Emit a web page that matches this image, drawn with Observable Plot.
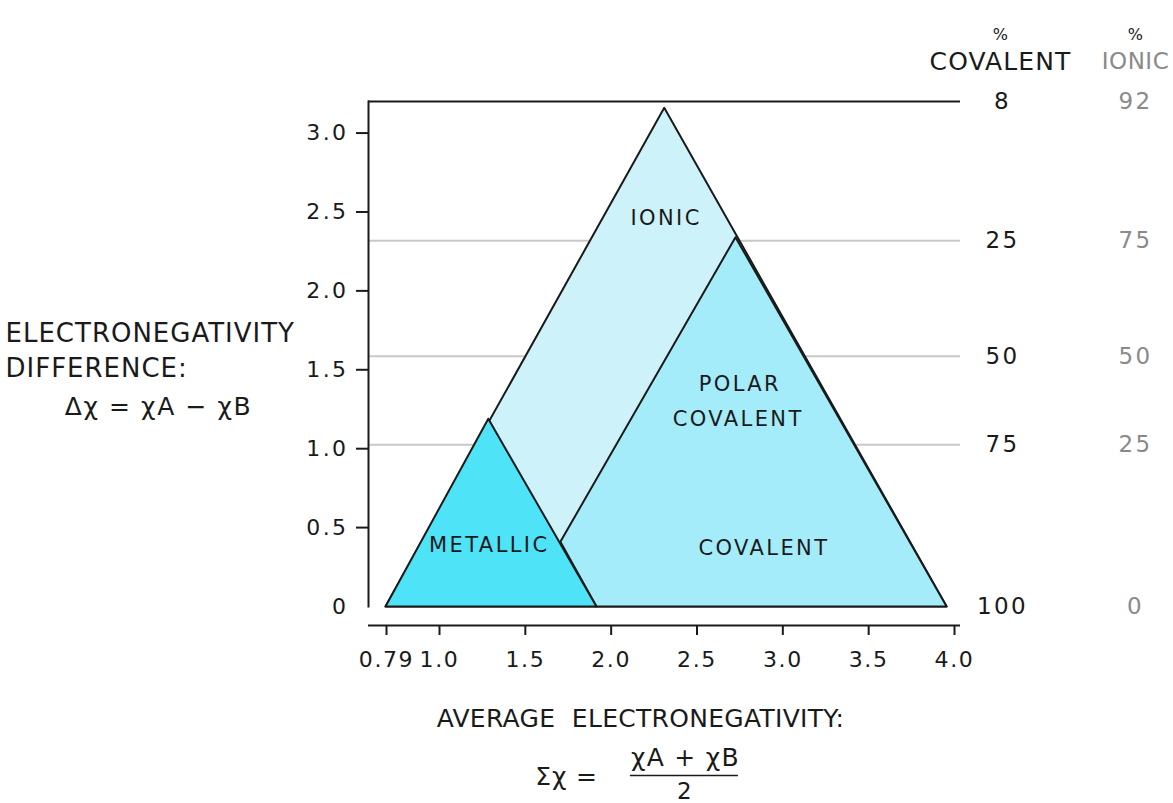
<!DOCTYPE html>
<html>
<head>
<meta charset="utf-8">
<script src="https://cdn.jsdelivr.net/npm/d3@7"></script>
<script src="https://cdn.jsdelivr.net/npm/@observablehq/plot@0.6"></script>
<style>
  html, body { margin: 0; padding: 0; background: #fff; }
  svg { font-family: "DejaVu Sans", sans-serif; }
  svg text { letter-spacing: 2.4px; }
</style>
</head>
<body>
<div id="chart"></div>
<script>
// ---- data ----
const xTicks = [0.79, 1.0, 1.5, 2.0, 2.5, 3.0, 3.5, 4.0];
const xTickLabels = ["0.79", "1.0", "1.5", "2.0", "2.5", "3.0", "3.5", "4.0"];
const yTicks = [0.5, 1.0, 1.5, 2.0, 2.5, 3.0];
const yTickLabels = ["0.5", "1.0", "1.5", "2.0", "2.5", "3.0"];

// whole triangle (ionic region is what remains visible)
const ionicX = [0.79, 2.315, 3.96, 0.79];
const ionicY = [0, 3.16, 0, 0];
// polar covalent / covalent region
const covalentX = [1.71, 2.73, 3.96, 1.92, 1.71];
const covalentY = [0.41, 2.34, 0, 0, 0.41];
// metallic region
const metallicX = [0.79, 1.29, 1.92, 0.79];
const metallicY = [0, 1.19, 0, 0];

// % character reference levels (delta chi)
const levelY = [3.2, 2.318, 1.585, 1.025, 0];
const pctCovalent = [8, 25, 50, 75, 100];
const pctIonic = [92, 75, 50, 25, 0];
const gridLevels = [2.318, 1.585, 1.025];

// region labels
const regionNames = ["IONIC", "POLAR", "COVALENT", "COVALENT", "METALLIC"];
const regionX = [2.32, 2.75, 2.74, 2.89, 1.29];
const regionY = [2.46, 1.41, 1.185, 0.37, 0.39];

const toPts = (xs, ys) => xs.map((x, i) => ({x, y: ys[i]}));

const FS = 22;
const ink = "#1a1a1a";
const grey = "#8a8a8a";
const mid = {textAnchor: "middle", lineAnchor: "middle"};

const chart = Plot.plot({
  width: 1173,
  height: 803,
  marginLeft: 368,
  marginRight: 213,
  marginTop: 101,
  marginBottom: 197,
  style: {fontSize: FS + "px", color: ink, background: "#fff", overflow: "visible"},
  x: {type: "linear", domain: [0.79, 1.0, 4.0], range: [385, 438, 953], axis: null},
  y: {domain: [0, 3.2], axis: null},
  marks: [
    // horizontal % guide lines
    Plot.ruleY(gridLevels, {y: d => d, stroke: "#c8c8c8", strokeWidth: 2}),
    // top line (8 %) and left axis line
    Plot.ruleY([3.2], {stroke: ink, strokeWidth: 2}),
    Plot.frame({anchor: "left", stroke: ink, strokeWidth: 2}),
    // x axis baseline (offset below triangle)
    Plot.ruleY([0], {stroke: ink, strokeWidth: 2, dy: 19}),
    // triangles
    Plot.line(toPts(ionicX, ionicY), {x: "x", y: "y", fill: "#cdf2f9", stroke: ink, strokeWidth: 2, strokeLinejoin: "round"}),
    Plot.line(toPts(covalentX, covalentY), {x: "x", y: "y", fill: "#a5ecfb", stroke: ink, strokeWidth: 2, strokeLinejoin: "round"}),
    Plot.line(toPts(metallicX, metallicY), {x: "x", y: "y", fill: "#4fe3f8", stroke: ink, strokeWidth: 2, strokeLinejoin: "round"}),
    // region labels
    Plot.text(regionNames.map((t, i) => ({t, x: regionX[i], y: regionY[i]})), {x: "x", y: "y", text: "t", fontSize: 21, fill: ink, dx: 1}),
    // y axis
    Plot.axisY(yTicks, {label: null, tickSize: 12, tickPadding: 8, tickFormat: (d, i) => yTickLabels[i], stroke: ink, strokeWidth: 2, fill: ink, fontSize: FS}),
    Plot.axisY([0], {label: null, tickSize: 0, tickPadding: 20, tickFormat: () => "0", fill: ink, fontSize: FS}),
    // x axis
    Plot.axisX(xTicks, {label: null, tickSize: 10, tickPadding: 16, dy: 19, dx: 1, tickFormat: (d, i) => xTickLabels[i], stroke: ink, strokeWidth: 2, fill: ink, fontSize: FS}),
    // right-hand % scales
    Plot.text(levelY.map((y, i) => ({y, t: String(pctCovalent[i])})), {y: "y", text: "t", frameAnchor: "right", ...mid, dx: 42, fill: ink, fontSize: 23}),
    Plot.text(levelY.map((y, i) => ({y, t: String(pctIonic[i])})), {y: "y", text: "t", frameAnchor: "right", ...mid, dx: 175, fill: grey, fontSize: 23}),
    Plot.text(["%"], {frameAnchor: "top-right", ...mid, dx: 41, dy: -67, fill: ink, fontSize: 16}),
    Plot.text(["%"], {frameAnchor: "top-right", ...mid, dx: 176, dy: -67, fill: ink, fontSize: 16}),
    Plot.text(["COVALENT"], {frameAnchor: "top-right", ...mid, dx: 40, dy: -40, fill: ink, fontSize: 25}),
    Plot.text(["IONIC"], {frameAnchor: "top-right", ...mid, dx: 175, dy: -40, fill: grey, fontSize: 23}),
    // left axis title
    Plot.text(["ELECTRONEGATIVITY"], {frameAnchor: "top-left", textAnchor: "start", lineAnchor: "middle", dx: -363, dy: 232, fill: ink, fontSize: 26}),
    Plot.text(["DIFFERENCE:"], {frameAnchor: "top-left", textAnchor: "start", lineAnchor: "middle", dx: -363, dy: 267, fill: ink, fontSize: 26}),
    Plot.text(["Δχ = χA − χB"], {frameAnchor: "top-left", ...mid, dx: -210, dy: 305, fill: ink, fontSize: 25}),
    // bottom axis title
    Plot.text(["AVERAGE  ELECTRONEGATIVITY:"], {frameAnchor: "bottom", ...mid, dx: -24, dy: 112, fill: ink, fontSize: 25}),
    Plot.text(["Σχ ="], {frameAnchor: "bottom", ...mid, dx: -98, dy: 170, fill: ink, fontSize: 25}),
    Plot.text(["χA + χB"], {frameAnchor: "bottom", ...mid, dx: 21, dy: 151, fill: ink, fontSize: 25}),
    Plot.text(["2"], {frameAnchor: "bottom", ...mid, dx: 21, dy: 185, fill: ink, fontSize: 23}),
    Plot.ruleY([0], {x1: 2.118, x2: 2.747, dy: 169, stroke: ink, strokeWidth: 1.5})
  ]
});

// per-text letter spacing (typography only)
const spacingByText = {
  "ELECTRONEGATIVITY": 1,
  "DIFFERENCE:": 1,
  "Δχ = χA − χB": 1.6,
  "AVERAGE  ELECTRONEGATIVITY:": 0.3,
  "Σχ =": 0.8,
  "χA + χB": 1.3
};
chart.querySelectorAll("text").forEach(t => {
  const s = t.textContent;
  const g = t.closest("g");
  const fs = g ? g.getAttribute("font-size") : null;
  const al = g ? g.getAttribute("aria-label") : null;
  if (s in spacingByText) t.style.letterSpacing = spacingByText[s] + "px";
  else if (s === "COVALENT" && fs === "25") t.style.letterSpacing = "1.1px";
  else if (s === "IONIC" && fs === "23") t.style.letterSpacing = "0.5px";
  else if (al === "x-axis tick label") t.style.letterSpacing = "1.6px";
});
document.getElementById("chart").appendChild(chart);
</script>
</body>
</html>
